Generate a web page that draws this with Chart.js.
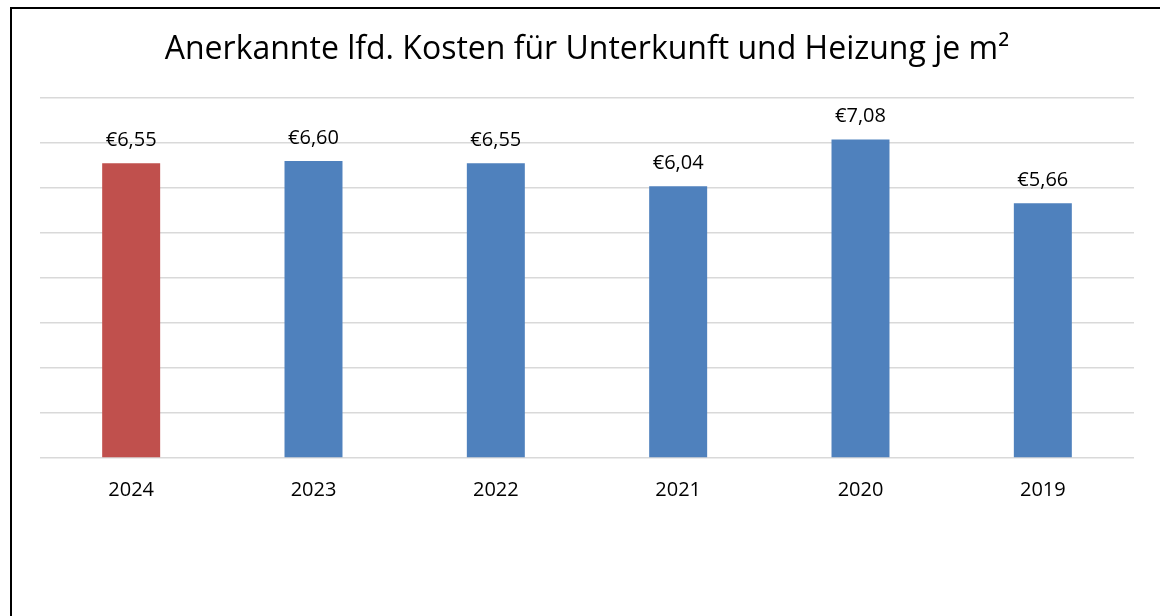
<!DOCTYPE html>
<html lang="de">
  <head>
    <meta charset="UTF-8" />
    <title>Anerkannte lfd. Kosten je m²</title>
    <script src="https://cdn.jsdelivr.net/npm/chart.js"></script>
    <style>
      html, body { margin: 0; padding: 0; background: #fff; }
      #wrap { position: relative; width: 1160px; height: 616px; overflow: hidden; }
      #frame {
        position: absolute; left: 10px; top: 7px; width: 1200px; height: 700px;
        border-left: 2px solid #000; border-top: 2px solid #000; box-sizing: border-box;
      }
      canvas { position: absolute; left: 0; top: 0; }
    </style>
  </head>
  <body>
    <div id="wrap">
      <div id="frame"></div>
      <canvas id="chart" width="1160" height="616"></canvas>
    </div>
    <script>
      const years = ["2024", "2023", "2022", "2021", "2020", "2019"];
      const costs = [6.55, 6.60, 6.55, 6.04, 7.08, 5.66];
      const barColors = ["#C0504D", "#4F81BD", "#4F81BD", "#4F81BD", "#4F81BD", "#4F81BD"];

      const FONT = "'Open Sans', sans-serif";

      // value labels above each bar, e.g. "€6,55"
      const valueLabels = {
        id: "valueLabels",
        afterDatasetsDraw(chart) {
          const ctx = chart.ctx;
          const meta = chart.getDatasetMeta(0);
          ctx.save();
          ctx.font = "20px " + FONT;
          ctx.fillStyle = "#000";
          ctx.textAlign = "center";
          ctx.textBaseline = "alphabetic";
          meta.data.forEach((bar, i) => {
            const txt = "€" + costs[i].toFixed(2).replace(".", ",");
            ctx.fillText(txt, bar.x, bar.y - 17);
          });
          ctx.restore();
        },
      };

      new Chart(document.getElementById("chart"), {
        type: "bar",
        data: {
          labels: years,
          datasets: [
            {
              data: costs,
              backgroundColor: barColors,
              categoryPercentage: 1,
              barPercentage: 0.318,
            },
          ],
        },
        options: {
          responsive: false,
          animation: false,
          layout: { padding: { left: 40, right: 26, top: 0, bottom: 0 } },
          plugins: {
            legend: { display: false },
            tooltip: { enabled: false },
            title: {
              display: true,
              text: "Anerkannte lfd. Kosten für Unterkunft und Heizung je m²",
              color: "#000",
              font: { family: FONT, size: 32, weight: "normal", lineHeight: 1.2 },
              padding: { top: 31, bottom: 28.6 },
            },
          },
          scales: {
            x: {
              grid: { display: false, drawTicks: false },
              border: { display: false },
              ticks: { color: "#000", font: { family: FONT, size: 20 }, padding: 20 },
              afterFit: (scale) => { scale.height = 158; },
            },
            y: {
              min: 0,
              max: 8,
              ticks: { display: false, stepSize: 1 },
              grid: { color: "#D9D9D9", lineWidth: 1.5, drawTicks: false },
              border: { display: false },
              afterFit: (scale) => { scale.width = 0; },
            },
          },
        },
        plugins: [valueLabels],
      });
    </script>
  </body>
</html>
